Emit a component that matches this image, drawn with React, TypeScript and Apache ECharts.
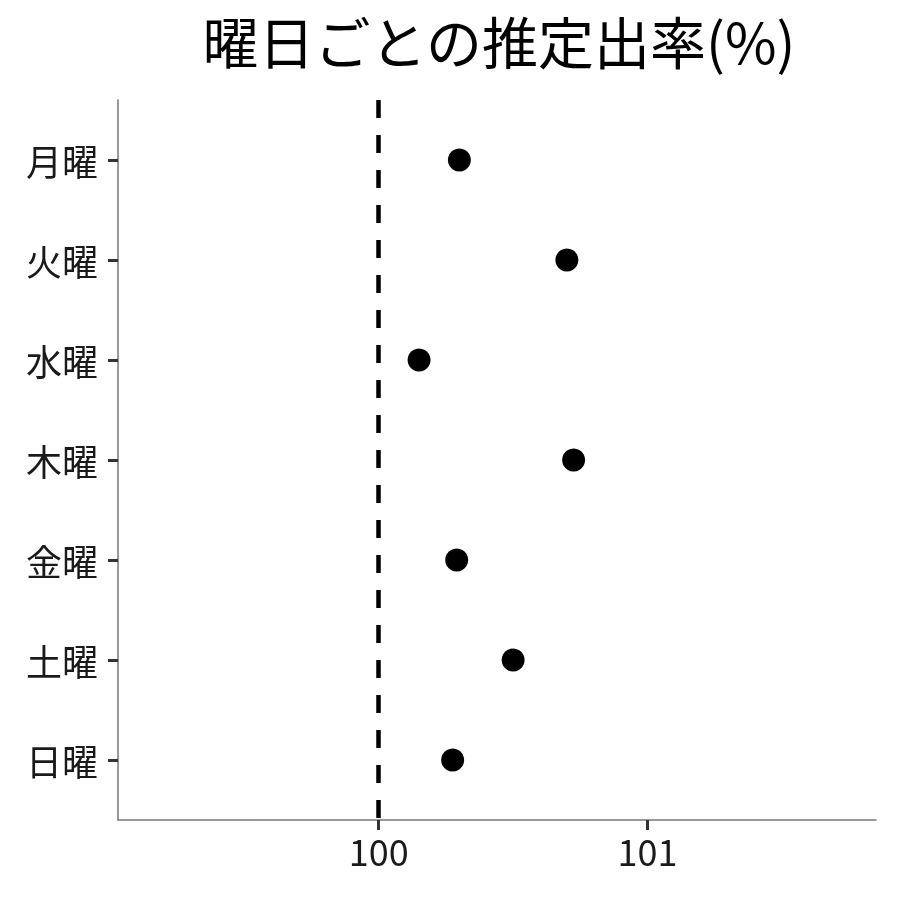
import * as echarts from "echarts";
import { useEffect, useRef } from "react";

const days = ["月曜", "火曜", "水曜", "木曜", "金曜", "土曜", "日曜"];
const rates = [100.3, 100.7, 100.15, 100.725, 100.29, 100.5, 100.275];
const xTicks = [100, 101];
const refValue = 100;

const FONT = "'Noto Sans CJK JP', 'Noto Sans', sans-serif";

const App = () => {
	const chartRef = useRef<HTMLDivElement>(null);

	useEffect(() => {
		const chart = echarts.init(chartRef.current!, undefined, { renderer: "svg" });
		const yPos = days.map((_, i) => i + 1);
		chart.setOption({
			animation: false,
			textStyle: { fontFamily: FONT },
			title: {
				text: "曜日ごとの推定出率(%)",
				left: 494,
				textAlign: "center",
				top: 6,
				textStyle: { fontFamily: FONT, fontSize: 56, fontWeight: "normal", color: "#000" }
			},
			grid: { left: 118, right: 24, top: 100, bottom: 80 },
			xAxis: {
				type: "value",
				min: 99.03,
				max: 101.85,
				splitLine: { show: false },
				axisLine: { show: true, lineStyle: { color: "#777", width: 1.5 } },
				axisTick: { show: true, length: 10, lineStyle: { color: "#333", width: 3 }, customValues: xTicks },
				axisLabel: { customValues: xTicks, fontSize: 36, color: "#1a1a1a", margin: 12, fontFamily: FONT }
			},
			yAxis: {
				type: "value",
				inverse: true,
				min: 0.4,
				max: 7.6,
				splitLine: { show: false },
				axisLine: { show: true, lineStyle: { color: "#777", width: 1.5 } },
				axisTick: { show: true, length: 10, lineStyle: { color: "#333", width: 3 }, customValues: yPos },
				axisLabel: {
					customValues: yPos,
					fontSize: 36,
					color: "#1a1a1a",
					margin: 20,
					fontFamily: FONT,
					formatter: (v: number) => days[Math.round(v) - 1] ?? ""
				}
			},
			series: [
				{
					type: "scatter",
					symbol: "circle",
					symbolSize: 23,
					itemStyle: { color: "#000", opacity: 1 },
					data: rates.map((r, i) => [r, i + 1]),
					markLine: {
						silent: true,
						symbol: "none",
						label: { show: false },
						lineStyle: { color: "#000", type: [18, 17], width: 4.5, opacity: 1 },
						data: [{ xAxis: refValue }]
					}
				}
			]
		});

		return () => {
			chart.dispose();
		};
	}, []);

	return (
		<div
			ref={chartRef}
			style={{ position: "fixed", left: 0, top: 0, width: "900px", height: "900px" }}
		/>
	);
};

export default App;
